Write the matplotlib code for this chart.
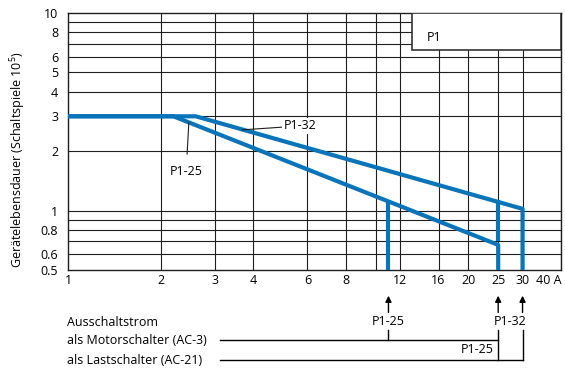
import matplotlib
matplotlib.use('Agg')
import matplotlib.pyplot as plt
from matplotlib.patches import Rectangle

plt.rcParams['font.family'] = ['Open Sans', 'DejaVu Sans']
plt.rcParams['font.size'] = 9
plt.rcParams['mathtext.fontset'] = 'custom'
plt.rcParams['mathtext.rm'] = 'Open Sans'

# curves (current in A, life in 10^5 operations)
p125_x = [1, 2.2, 25, 25]
p125_y = [3, 3, 0.67, 0.5]
p132_x = [1, 2.6, 30, 30]
p132_y = [3, 3, 1.02, 0.5]

# extra drop lines (AC-3 ratings)
drop_x = [11, 25]
drop_top = [1.11, 1.1]
drop_bottom = [0.5, 0.72]

# breaking currents
ac3_x = [11, 25]    # P1-25, P1-32
ac21_x = [25, 30]   # P1-25, P1-32

x_ticks = [1, 2, 3, 4, 6, 8, 12, 16, 20, 25, 30, 40]
x_labels = ['1', '2', '3', '4', '6', '8', '12', '16', '20', '25', '30', '40 A']
x_grid = [2, 3, 4, 6, 8, 10, 12, 16, 20, 25, 30, 40]
y_ticks = [0.5, 0.6, 0.8, 1, 2, 3, 4, 5, 6, 8, 10]
y_labels = ['0.5', '0.6', '0.8', '1', '2', '3', '4', '5', '6', '8', '10']
y_grid = [0.6, 0.7, 0.8, 0.9, 1, 2, 3, 4, 5, 6, 7, 8, 9]

blue = '#0a74ba'
dark = '#1e1e1e'

fig = plt.figure(figsize=(5.65, 3.69), dpi=100)
ax = fig.add_axes([68 / 565, 99 / 369, 493 / 565, 257 / 369])
ax.set_xscale('log')
ax.set_yscale('log')
ax.set_xlim(1, 40)
ax.set_ylim(0.5, 10)
ax.minorticks_off()
ax.set_xticks(x_ticks, x_labels)
ax.set_yticks(y_ticks, y_labels)
ax.minorticks_off()
ax.get_xticklabels()[-1].set_ha('right')
ax.tick_params(axis='x', length=0, pad=3)
ax.tick_params(axis='y', length=0, pad=7)
for s in ax.spines.values():
    s.set_color(dark)
    s.set_linewidth(1)

# grid
for gx in x_grid:
    ax.axvline(gx, color=dark, lw=0.8, zorder=1)
for gy in y_grid:
    ax.axhline(gy, color=dark, lw=0.8, zorder=1)

# P1 box
ax.add_patch(Rectangle((13.1, 6.5), 40 - 13.1, 10 - 6.5, fc='white', ec='#333333', lw=1.2, zorder=3))
ax.text(14.7, 7.5, 'P1', ha='left', va='center', zorder=4)

# curves
ax.plot(p125_x, p125_y, color=blue, lw=3, zorder=4)
ax.plot(p132_x, p132_y, color=blue, lw=3, zorder=4)
for x, t, b in zip(drop_x, drop_top, drop_bottom):
    ax.plot([x, x], [t, b], color=blue, lw=3, zorder=4)

# curve labels
ax.annotate('P1-32', xy=(3.67, 2.56), xytext=(5.67, 2.68), ha='center', va='center',
            bbox=dict(fc='white', ec='none', pad=1), zorder=5,
            arrowprops=dict(arrowstyle='-', lw=0.8, color=dark, shrinkA=0, shrinkB=0))
ax.annotate('P1-25', xy=(2.47, 2.79), xytext=(2.42, 1.57), ha='center', va='center', zorder=5,
            arrowprops=dict(arrowstyle='-', lw=0.8, color=dark, shrinkA=6, shrinkB=0))

# breaking current legend below the axis
trans = ax.get_xaxis_transform()
for x in ac3_x + [ac21_x[1]]:
    ax.annotate('', xy=(x, -0.10), xycoords=trans, xytext=(x, -0.165), textcoords=trans,
                annotation_clip=False,
                arrowprops=dict(arrowstyle='-|>', color='black', lw=1, mutation_scale=9,
                                shrinkA=0, shrinkB=0))
ax.text(ac3_x[0], -0.202, 'P1-25', transform=trans, ha='center', va='center')
ax.text(27.4, -0.202, 'P1-32', transform=trans, ha='center', va='center')
ax.text(24.2, -0.311, 'P1-25', transform=trans, ha='right', va='center')

lkw = dict(color='black', lw=1, transform=trans, clip_on=False)
ax.plot([3.12, ac3_x[1]], [-0.272, -0.272], **lkw)
ax.plot([3.12, ac21_x[1]], [-0.35, -0.35], **lkw)
ax.plot([ac3_x[0], ac3_x[0]], [-0.233, -0.272], **lkw)
ax.plot([ac3_x[1], ac3_x[1]], [-0.233, -0.35], **lkw)
ax.plot([ac21_x[1], ac21_x[1]], [-0.233, -0.35], **lkw)

fig.text(67 / 565, 1 - 322 / 369, 'Ausschaltstrom', ha='left', va='center')
fig.text(67 / 565, 1 - 341 / 369, 'als Motorschalter (AC-3)', ha='left', va='center')
fig.text(67 / 565, 1 - 360 / 369, 'als Lastschalter (AC-21)', ha='left', va='center')

fig.text(18 / 565, 1 - 160 / 369, 'Gerätelebensdauer (Schaltspiele 10$^5$)',
         rotation=90, ha='center', va='center')

fig.savefig('out.png', dpi=100)
